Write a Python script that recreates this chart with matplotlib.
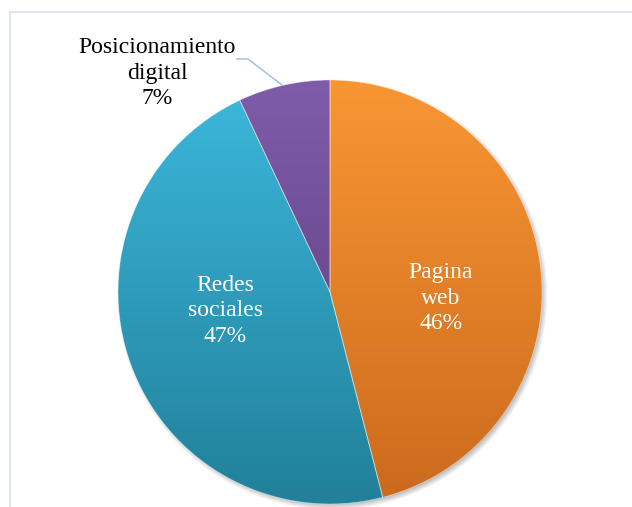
import numpy as np
import matplotlib.pyplot as plt
from matplotlib.patches import Rectangle
from matplotlib.colors import to_rgba
from matplotlib import rcParams

rcParams['font.family'] = ['Liberation Serif', 'DejaVu Serif']

# Data
names = ["Pagina\nweb", "Redes\nsociales", "Posicionamiento\ndigital"]
values = [46, 47, 7]

# Gradient fill, light at the top and darker at the bottom of the pie
top_colors = ["#F99633", "#3CB8DC", "#7F5CA9"]
bottom_colors = ["#CB6A1D", "#21809A", "#57397A"]

# Canvas in pixels; pie centre and radius
W, H = 632, 507
cx, cy, R = 330, 292, 212


def px(x, y):
    # pixel position -> data coords of the pie axes
    return (x - cx) / R, (cy - y) / R


fig = plt.figure(figsize=(W / 100, H / 100), dpi=100)
ax = fig.add_axes([0, 0, 1, 1])

wedges, _ = ax.pie(values, startangle=90, counterclock=False, radius=1,
                   wedgeprops=dict(linewidth=0.6, edgecolor=(1, 1, 1, 0.45)))
ax.set_xlim(-cx / R, (W - cx) / R)
ax.set_ylim((cy - H) / R, cy / R)
ax.set_aspect('auto')
ax.axis('off')

# soft drop shadow
g = np.linspace(-1.2, 1.2, 600)
gx, gy = np.meshgrid(g, g[::-1])
d = np.hypot(gx - 2 / R, gy + 3 / R)
a = np.clip((1.0 - d) / (7 / R) + 0.5, 0, 1) * 0.45
shadow = np.zeros(gx.shape + (4,))
shadow[..., :3] = 0.35
shadow[..., 3] = a
ax.imshow(shadow, extent=(-1.2, 1.2, -1.2, 1.2), zorder=0.5, interpolation='bilinear')

for w, c0, c1 in zip(wedges, top_colors, bottom_colors):
    t = np.linspace(0, 1, 256)[:, None, None]
    grad = (1 - t) * np.array(to_rgba(c0)) + t * np.array(to_rgba(c1))
    grad = np.repeat(grad, 2, axis=1)
    im = ax.imshow(grad, extent=(-1, 1, -1, 1), zorder=1, interpolation='bilinear')
    im.set_clip_path(w)
    w.set_facecolor('none')
    w.set_zorder(2)

ax.set_xlim(-cx / R, (W - cx) / R)
ax.set_ylim((cy - H) / R, cy / R)

# data labels
txt = dict(fontsize=17, family='Liberation Serif', ha='center', va='center',
           multialignment='center', linespacing=1.3)
ax.text(*px(441, 298), f"{names[0]}\n{values[0]}%", color='white', zorder=3, **txt)
ax.text(*px(225, 311), f"{names[1]}\n{values[1]}%", color='white', zorder=3, **txt)
ax.text(*px(157, 73), f"{names[2]}\n{values[2]}%", color='black', zorder=3, **txt)

# leader line for the small slice
lx, ly = zip(px(237, 59), px(248, 59), px(282, 85))
ax.plot(lx, ly, color='#9DC3E6', lw=1.1, zorder=3)

# chart area border
fig.add_artist(Rectangle((9.5 / W, -0.1), 1.2, 1 - 11.5 / H + 0.1, transform=fig.transFigure,
                         fill=False, edgecolor='#D9E3F0', lw=1.3))

plt.savefig("out.png", dpi=100)
